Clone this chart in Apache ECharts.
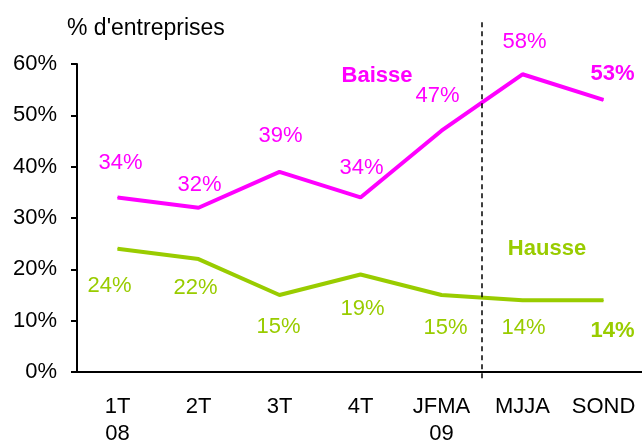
<!DOCTYPE html>
<html><head><meta charset="utf-8">
<script src="https://cdn.jsdelivr.net/npm/echarts@6/dist/echarts.min.js"></script>
<style>html,body{margin:0;padding:0;background:#fff}#c{width:642px;height:441px}</style>
</head><body><div id="c"></div>
<script>
var categories = ['1T\n08', '2T', '3T', '4T', 'JFMA\n09', 'MJJA', 'SOND'];
var baisse = [34, 32, 39, 34, 47, 58, 53];
var hausse = [24, 22, 15, 19, 15, 14, 14];
var yTicks = [0, 10, 20, 30, 40, 50, 60];
var separatorAt = 5; // boundary between JFMA and MJJA

var baisseOffsets = [[3,-35],[1,-23],[1,-36],[1,-30],[-4,-35],[2,-32],[9,-26]];
var hausseOffsets = [[-8,37],[-3,29],[-1,32],[2,34],[4,33],[1,28],[9,31]];

var MAG = '#FF00FF', GRN = '#99CC00';
var FONT = 'Liberation Sans, Arial, Helvetica, sans-serif';
var FS = 22;

function mk(vals, offs) {
  return vals.map(function (v, i) {
    return {
      value: v,
      label: {
        offset: offs[i],
        fontWeight: i === vals.length - 1 ? 'bold' : 'normal'
      }
    };
  });
}

var chart = echarts.init(document.getElementById('c'));
chart.setOption({
  animation: false,
  textStyle: { fontFamily: FONT },
  grid: { left: 77, top: 64, width: 567, height: 308, containLabel: false, outerBoundsMode: 'none' },
  xAxis: [{
    type: 'category',
    data: categories,
    boundaryGap: true,
    axisLine: { lineStyle: { color: '#000', width: 2 } },
    axisTick: { length: 6, lineStyle: { color: '#000', width: 2 } },
    axisLabel: { color: '#000', fontSize: FS, fontFamily: FONT, margin: 21, lineHeight: 27, interval: 0 }
  }, {
    type: 'value', min: 0, max: 7, show: false
  }],
  yAxis: {
    type: 'value', min: yTicks[0], max: yTicks[yTicks.length - 1], interval: 10,
    splitLine: { show: false },
    axisLine: { show: true, lineStyle: { color: '#000', width: 2 } },
    axisTick: { show: true, length: 6, lineStyle: { color: '#000', width: 2 } },
    axisLabel: { color: '#000', fontSize: FS, fontFamily: FONT, margin: 20, formatter: '{value}%' }
  },
  series: [{
    name: 'Baisse', type: 'line', data: mk(baisse, baisseOffsets),
    symbol: 'circle', symbolSize: 1, itemStyle: { color: MAG },
    lineStyle: { color: MAG, width: 4 },
    label: { show: true, position: 'inside', formatter: '{c}%', color: MAG, fontSize: FS, fontFamily: FONT }
  }, {
    name: 'Hausse', type: 'line', data: mk(hausse, hausseOffsets),
    symbol: 'circle', symbolSize: 1, itemStyle: { color: GRN },
    lineStyle: { color: GRN, width: 4 },
    label: { show: true, position: 'inside', formatter: '{c}%', color: GRN, fontSize: FS, fontFamily: FONT }
  }, {
    name: 'sep', type: 'line', xAxisIndex: 1, clip: false,
    data: [[separatorAt, -1.2], [separatorAt, 68.6]],
    symbol: 'none', silent: true,
    lineStyle: { color: '#000', width: 1.5, type: [5, 4] }
  }],
  graphic: [
    { type: 'text', left: 67, top: 17, style: { text: "% d'entreprises", fill: '#000', font: '23px ' + FONT } },
    { type: 'text', x: 377, y: 76, style: { text: 'Baisse', fill: MAG, font: 'bold 22px ' + FONT, align: 'center', verticalAlign: 'middle' } },
    { type: 'text', x: 547, y: 249, style: { text: 'Hausse', fill: GRN, font: 'bold 22px ' + FONT, align: 'center', verticalAlign: 'middle' } }
  ]
});
</script></body></html>
